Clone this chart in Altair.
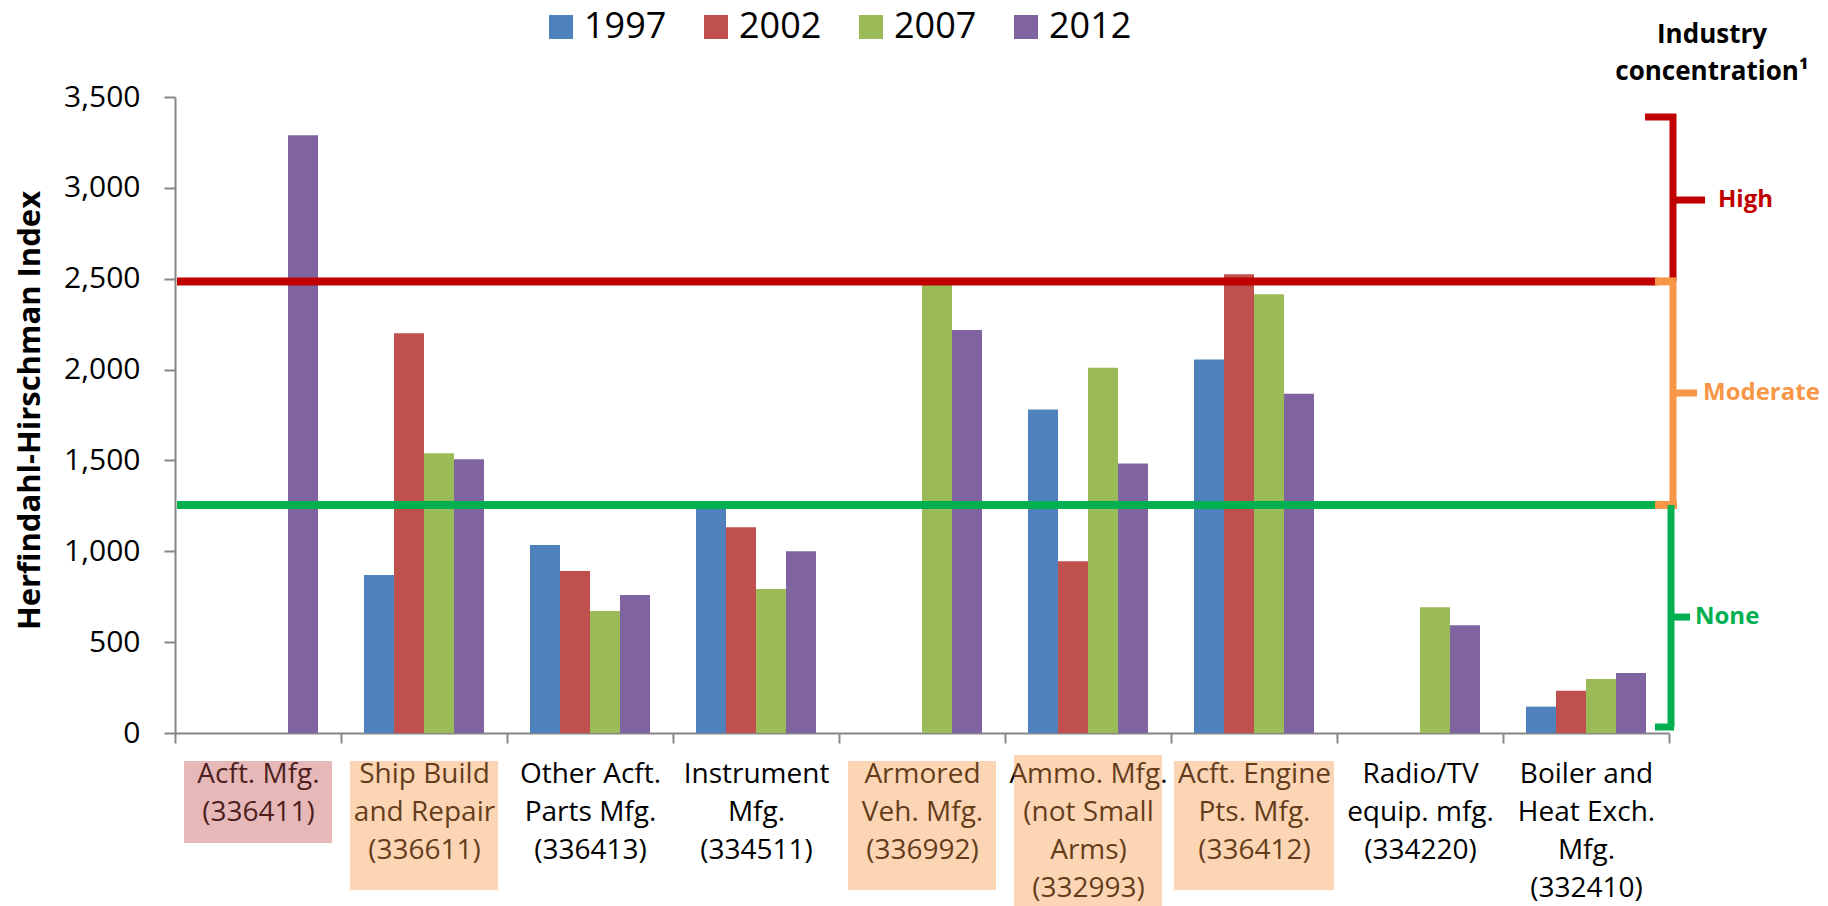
import altair as alt
import pandas as pd

# ---------------- data ----------------
categories = [
    "Acft. Mfg.\n(336411)",
    "Ship Build\nand Repair\n(336611)",
    "Other Acft.\nParts Mfg.\n(336413)",
    "Instrument\nMfg.\n(334511)",
    "Armored\nVeh. Mfg.\n(336992)",
    "Ammo. Mfg.\n(not Small\nArms)\n(332993)",
    "Acft. Engine\nPts. Mfg.\n(336412)",
    "Radio/TV\nequip. mfg.\n(334220)",
    "Boiler and\nHeat Exch.\nMfg.\n(332410)",
]
years = ["1997", "2002", "2007", "2012"]
hhi_1997 = [None, 870, 1035, 1255, None, 1780, 2055, None, 145]
hhi_2002 = [None, 2200, 892, 1132, None, 945, 2525, None, 232]
hhi_2007 = [None, 1540, 672, 792, 2480, 2010, 2415, 692, 297]
hhi_2012 = [3290, 1507, 760, 1000, 2218, 1483, 1867, 593, 330]

# concentration level highlighted behind the category label
label_level = ["High", "Moderate", None, None, "Moderate", "Moderate", "Moderate", None, None]

high_threshold = 2485
none_threshold = 1255
bracket_top = 3390
bracket_bottom = 33
level_names = ["High", "Moderate", "None"]
level_label_y = [2933, 1871, 638]

# ---------------- styles ----------------
year_colors = ["#4F81BD", "#C0504D", "#9BBB59", "#8064A2"]
RED, ORANGE, GREEN = "#C00000", "#F79646", "#00B050"
box_fill = {"High": "#C0504D", "Moderate": "#F79646"}
FONT = "Open Sans"
AX = "#868686"
W, H = 1494, 636

rows = []
for i, c in enumerate(categories):
    for y, series in zip(years, [hhi_1997, hhi_2002, hhi_2007, hhi_2012]):
        if series[i] is not None:
            rows.append({"cat": c, "year": y, "hhi": series[i]})
df = pd.DataFrame(rows)
df_cat = pd.DataFrame({"cat": categories, "level": label_level,
                       "lines": [c.count("\n") + 1 for c in categories]})
one = pd.DataFrame({"k": [0]})

X = alt.X(
    "cat:N", sort=categories,
    scale=alt.Scale(paddingInner=0, paddingOuter=0),
    axis=alt.Axis(
        title=None, labelAngle=0, labelExpr="split(datum.label, '\\n')",
        tickBand="extent", labelFont=FONT, labelFontSize=28, labelLineHeight=38,
        labelPadding=17, labelBaseline="top", labelColor="black",
        tickSize=10, tickColor=AX, tickWidth=2, domainColor=AX, domainWidth=2,
        labelLimit=400,
    ),
)

Y = alt.Y(
    "hhi:Q",
    scale=alt.Scale(domain=[0, 3500], nice=False),
    axis=alt.Axis(
        values=list(range(0, 3501, 500)), format=",.0f", grid=False,
        labelFont=FONT, labelFontSize=30, labelColor="black", labelPadding=24,
        tickSize=11, tickColor=AX, tickWidth=2, domainColor=AX, domainWidth=2,
        title="Herfindahl-Hirschman Index", titleFont=FONT, titleFontWeight="bold",
        titleFontSize=31, titleColor="black", titleAngle=-90, titleX=-145,
        titleY=313, titleAlign="center", titleBaseline="middle",
    ),
)

bars = alt.Chart(df).mark_bar().encode(
    x=X,
    xOffset=alt.XOffset("year:N", sort=years,
                        scale=alt.Scale(paddingInner=0, paddingOuter=0.767)),
    y=Y,
    color=alt.Color(
        "year:N", sort=years,
        scale=alt.Scale(domain=years, range=year_colors),
        legend=alt.Legend(
            orient="none", legendX=368, legendY=-88, direction="horizontal",
            title=None, symbolType="square", symbolSize=576, symbolStrokeWidth=0,
            labelFont=FONT, labelFontSize=36, labelColor="black", labelOffset=5,
            columnPadding=31, padding=0, columns=4,
        ),
    ),
)

layers = []
# label highlight boxes (drawn over the axis labels, semi-transparent)
box_width = {"Acft. Engine\nPts. Mfg.\n(336412)": 160}
box_bottom = {2: 746, 3: 793, 4: 840}
for c, lvl, n in zip(categories, label_level, df_cat["lines"]):
    if lvl is None:
        continue
    layers.append(
        alt.Chart(df_cat).transform_filter(alt.datum.cat == c)
        .mark_bar(width=box_width.get(c, 148), color=box_fill[lvl], opacity=0.4)
        .encode(x=X, y=alt.value(664 if n < 4 else 658), y2=alt.value(box_bottom[n]))
    )

layers.append(bars)


def seg(x1, x2, y1, y2, color, sw=7):
    return alt.Chart(one).mark_rule(color=color, strokeWidth=sw).encode(
        x=alt.value(x1), x2=alt.value(x2), y=alt.datum(y1), y2=alt.datum(y2))


BX = 1498
# threshold lines
layers.append(seg(2, 1482, high_threshold, high_threshold, RED, 8))
layers.append(seg(2, 1482, none_threshold, none_threshold, GREEN, 8))
# brackets
layers += [
    seg(1470, BX + 3, bracket_top, bracket_top, RED),
    seg(BX, BX, bracket_top + 17, high_threshold, RED),
    seg(BX, BX + 32, level_label_y[0], level_label_y[0], RED),
    seg(1480, BX + 3, high_threshold, high_threshold, ORANGE, 8),
    seg(BX, BX, high_threshold, none_threshold, ORANGE),
    seg(BX, BX + 24, level_label_y[1], level_label_y[1], ORANGE),
    seg(1480, BX + 4, none_threshold, none_threshold, ORANGE, 8),
    seg(BX - 2, BX - 2, none_threshold, bracket_bottom, GREEN),
    seg(1480, BX + 1, bracket_bottom, bracket_bottom, GREEN),
    seg(BX - 2, BX + 17, level_label_y[2], level_label_y[2], GREEN),
]

# bracket labels
for name, yv, col, xp in zip(level_names, level_label_y, [RED, ORANGE, GREEN], [1543, 1528, 1520]):
    layers.append(
        alt.Chart(one).mark_text(text=name, color=col, font=FONT, fontWeight="bold",
                                 fontSize=24, align="left", baseline="middle")
        .encode(x=alt.value(xp), y=alt.datum(yv))
    )
for txt, yp in [("Industry", -62), ("concentration\u00b9", -25)]:
    layers.append(
        alt.Chart(one).mark_text(text=txt, color="black", font=FONT, fontWeight="bold",
                                 fontSize=26, align="center", baseline="middle")
        .encode(x=alt.value(1537), y=alt.value(yp))
    )

chart = alt.layer(*layers).properties(
    width=W, height=H,
    autosize=alt.AutoSizeParams(type="none"),
    padding={"left": 167, "top": 89, "right": 151, "bottom": 185},
).configure_view(stroke=None).configure_axis(grid=False)

chart.save("out.html", embed_options={"renderer": "svg", "actions": False})
